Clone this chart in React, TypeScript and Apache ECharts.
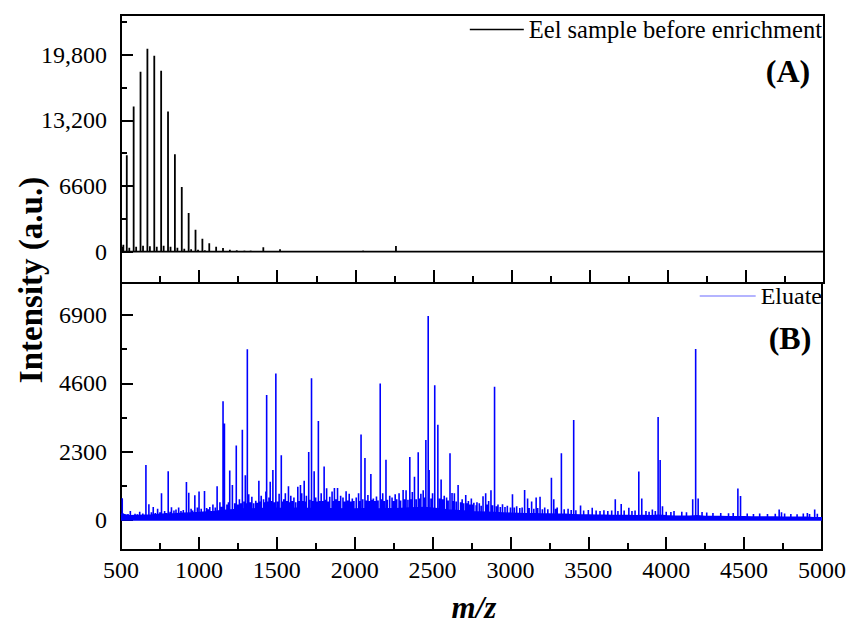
import React, { useEffect, useRef } from "react";
import * as echarts from "echarts";

const FONT = "Liberation Serif";
const X_MIN = 500;
const X_MAX = 5000;

// Panel A: eel sample before enrichment (main polymer-like series, m/z, intensity)
const peaksA_mz = [537, 581, 625, 669, 713, 757, 801, 845, 889, 933, 977, 1021, 1065, 1109, 1153, 1197, 1241];
const peaksA_int = [9700, 14600, 18100, 20400, 19700, 18200, 14100, 9800, 6500, 3900, 2200, 1300, 850, 500, 380, 200, 150];
// Panel A: small peaks
const minorA: number[][] = [
  [505, 500], [515, 700], [553, 400], [597, 500], [641, 600], [685, 550], [729, 500], [773, 600],
  [817, 500], [861, 400], [905, 300], [949, 250], [993, 200], [1037, 150], [1290, 120], [1330, 110],
  [1411, 440], [1518, 250], [1650, 90], [1800, 100], [2050, 110], [2260, 570], [2600, 90], [3000, 80],
  [3500, 80], [4000, 70], [4500, 60],
];

// Panel B: eluate peaks [m/z, intensity]
const peaksB: number[][] = [
  [508, 730], [660, 1850], [679, 530], [707, 440], [760, 900], [803, 1640], [824, 430], [853, 350],
  [920, 1280], [935, 920], [974, 830], [1001, 960], [1036, 980], [1070, 440], [1117, 1140], [1155, 4000],
  [1164, 3250], [1198, 1670], [1215, 1180], [1240, 2510], [1279, 3040], [1298, 1510], [1311, 5750],
  [1320, 870], [1385, 1320], [1430, 960], [1435, 4210], [1458, 1290], [1475, 1680], [1494, 4930],
  [1529, 2180], [1555, 900], [1575, 1140], [1635, 1120], [1652, 1180], [1676, 1320], [1705, 2290],
  [1723, 4770], [1740, 1640], [1767, 3330], [1804, 1800], [1820, 1070], [1870, 1080], [1890, 1080],
  [1945, 970], [2041, 2880], [2066, 2090], [2104, 1550], [2140, 790], [2164, 4600], [2201, 2030],
  [2260, 870], [2311, 1010], [2354, 2120], [2384, 1460], [2408, 2280], [2457, 2690], [2472, 6870],
  [2478, 1680], [2514, 4540], [2534, 3210], [2555, 1360], [2612, 2250], [2625, 910], [2664, 1180],
  [2713, 840], [2749, 720], [2785, 600], [2824, 800], [2841, 900], [2875, 1000], [2898, 4490],
  [2949, 530], [3013, 870], [3091, 1010], [3110, 720], [3136, 620], [3165, 760], [3190, 780],
  [3263, 1420], [3278, 700], [3327, 2250], [3406, 3370], [3450, 490], [3525, 410], [3673, 700],
  [3711, 540], [3760, 410], [3824, 1630], [3843, 720], [3911, 350], [3948, 3470], [3961, 2020],
  [3976, 460], [4170, 700], [4189, 5760], [4205, 720], [4460, 1060], [4477, 810], [4725, 350],
  [4906, 240], [4953, 350],
];
// Panel B: small spikes forming the ragged top of the dense band
const spikesB: number[][] = [
  [515, 220], [530, 180], [545, 200], [560, 300], [575, 170], [590, 210], [605, 190], [620, 280],
  [640, 220], [695, 260], [720, 240], [735, 380], [750, 260], [780, 300], [790, 240], [815, 280],
  [840, 320], [870, 420], [885, 300], [900, 340], [950, 380], [960, 320], [990, 420], [1015, 380],
  [1050, 400], [1060, 360], [1090, 520], [1105, 420], [1135, 600], [1145, 450], [1180, 520],
  [1190, 600], [1230, 560], [1250, 520], [1260, 700], [1270, 560], [1290, 620], [1305, 560],
  [1330, 600], [1340, 780], [1352, 560], [1365, 650], [1375, 580], [1392, 620], [1400, 820],
  [1415, 700], [1422, 600], [1444, 620], [1450, 760], [1466, 640], [1484, 600], [1505, 620],
  [1515, 880], [1538, 620], [1545, 700], [1565, 640], [1582, 600], [1590, 820], [1600, 640],
  [1610, 760], [1622, 600], [1644, 640], [1660, 900], [1668, 640], [1684, 620], [1690, 820],
  [1712, 680], [1732, 640], [1750, 760], [1758, 620], [1775, 640], [1785, 900], [1795, 640],
  [1812, 680], [1830, 620], [1840, 780], [1855, 960], [1862, 640], [1880, 700], [1900, 640],
  [1910, 820], [1925, 760], [1935, 620], [1955, 660], [1965, 880], [1975, 620], [1985, 720],
  [1995, 640], [2010, 760], [2025, 900], [2033, 640], [2052, 700], [2075, 660], [2085, 840],
  [2095, 640], [2112, 680], [2120, 720], [2130, 640], [2150, 660], [2172, 700], [2180, 900],
  [2190, 640], [2210, 680], [2225, 820], [2240, 760], [2250, 640], [2270, 700], [2285, 900],
  [2295, 660], [2320, 700], [2330, 1000], [2342, 680], [2362, 700], [2370, 940], [2395, 700],
  [2418, 720], [2425, 880], [2440, 1000], [2450, 760], [2490, 720], [2500, 900], [2545, 720],
  [2565, 700], [2575, 820], [2590, 760], [2600, 660], [2632, 640], [2640, 900], [2652, 620],
  [2680, 600], [2690, 700], [2700, 560], [2722, 560], [2730, 640], [2740, 520], [2758, 520],
  [2765, 580], [2780, 500], [2800, 560], [2812, 480], [2850, 520], [2860, 640], [2885, 500],
  [2910, 460], [2920, 520], [2935, 440], [2965, 440], [2980, 480], [3000, 420], [3025, 420],
  [3040, 460], [3060, 400], [3075, 420], [3120, 400], [3150, 380], [3175, 400], [3205, 360],
  [3220, 420], [3240, 360], [3290, 380], [3300, 420], [3345, 360], [3370, 380], [3390, 340],
  [3420, 330], [3470, 320], [3500, 340], [3550, 320], [3575, 300], [3600, 330], [3625, 300],
  [3650, 320], [3690, 300], [3730, 320], [3780, 300], [3800, 320], [3870, 300], [3890, 280],
  [3930, 300], [4000, 280], [4030, 270], [4050, 300], [4100, 280], [4130, 260], [4230, 270],
  [4260, 250], [4300, 240], [4350, 240], [4400, 230], [4430, 240], [4520, 220], [4560, 200],
  [4600, 220], [4650, 200], [4700, 210], [4740, 260], [4760, 220], [4800, 200], [4840, 190],
  [4880, 220], [4920, 200], [4970, 210],
];
// Panel B: solid floor of the dense band [m/z, intensity]
const noiseB: number[][] = [
  [500, 200], [550, 140], [600, 150], [650, 160], [700, 170], [750, 190], [800, 200], [850, 210],
  [900, 230], [950, 240], [1000, 250], [1050, 270], [1100, 290], [1150, 320], [1200, 340], [1250, 350],
  [1300, 380], [1350, 370], [1400, 390], [1450, 380], [1500, 400], [1550, 380], [1600, 390],
  [1650, 400], [1700, 390], [1750, 380], [1800, 390], [1850, 380], [1900, 370], [1950, 380],
  [2000, 370], [2050, 380], [2100, 380], [2150, 370], [2200, 380], [2250, 380], [2300, 390],
  [2350, 400], [2400, 410], [2450, 420], [2500, 400], [2550, 370], [2600, 340], [2650, 320],
  [2700, 300], [2750, 280], [2800, 270], [2850, 260], [2900, 250], [2950, 240], [3000, 230],
  [3050, 220], [3100, 210], [3150, 210], [3200, 200], [3250, 200], [3300, 190], [3350, 190],
  [3400, 180], [3450, 170], [3500, 170], [3550, 160], [3600, 160], [3650, 150], [3700, 150],
  [3750, 150], [3800, 140], [3850, 150], [3900, 140], [3950, 160], [4000, 140], [4050, 130],
  [4100, 130], [4150, 130], [4200, 140], [4250, 120], [4300, 120], [4350, 120], [4400, 110],
  [4450, 110], [4500, 110], [4550, 100], [4600, 100], [4650, 100], [4700, 100], [4750, 90],
  [4800, 90], [4850, 90], [4900, 90], [4950, 80], [5000, 80],
];

const yLabelsA = [0, 6600, 13200, 19800];
const yMinorA = [3300, 9900, 16500, 23100];
const yLabelsB = [0, 2300, 4600, 6900];
const yMinorB = [1150, 3450, 5750];

function sticks(peaks: number[][]): number[][] {
  const sorted = [...peaks].sort((a, b) => a[0] - b[0]);
  const out: number[][] = [[X_MIN, 0]];
  for (const p of sorted) {
    out.push([p[0], 0], [p[0], p[1]], [p[0], 0]);
  }
  out.push([X_MAX, 0]);
  return out;
}

const fmtY = (v: number) => (Math.abs(v) >= 10000 ? v.toLocaleString("en-US") : String(v));
const fmtX = (v: number) => String(v);

function xAxisCfg(gridIndex: number, showLabel: boolean) {
  return {
    type: "value",
    gridIndex,
    min: X_MIN,
    max: X_MAX,
    interval: 500,
    axisLine: { show: true, onZero: false, lineStyle: { color: "#000", width: 2 } },
    axisTick: { show: true, inside: true, length: 13, lineStyle: { color: "#000", width: 2 } },
    minorTick: { show: true, splitNumber: 2, length: 7, lineStyle: { color: "#000", width: 2 } },
    splitLine: { show: false },
    minorSplitLine: { show: false },
    axisLabel: { show: showLabel, formatter: fmtX, fontSize: 24, fontFamily: FONT, color: "#000", margin: 8 },
  };
}

function yAxisMajor(gridIndex: number, min: number, max: number, labels: number[]) {
  return {
    type: "value",
    gridIndex,
    position: "left",
    min,
    max,
    axisLine: { show: true, onZero: false, lineStyle: { color: "#000", width: 2 } },
    axisTick: { show: true, inside: true, length: 12, customValues: labels, lineStyle: { color: "#000", width: 2 } },
    axisLabel: { show: true, customValues: labels, formatter: fmtY, fontSize: 24, fontFamily: FONT, color: "#000", margin: 14 },
    splitLine: { show: false },
  };
}

function yAxisMinor(gridIndex: number, min: number, max: number, ticks: number[]) {
  return {
    type: "value",
    gridIndex,
    position: "left",
    offset: 0,
    min,
    max,
    axisLine: { show: false, onZero: false },
    axisTick: { show: true, inside: true, length: 6, customValues: ticks, lineStyle: { color: "#000", width: 2 } },
    axisLabel: { show: false },
    splitLine: { show: false },
  };
}

export default function App() {
  const ref = useRef<HTMLDivElement>(null);
  useEffect(() => {
    if (!ref.current) return;
    const chart = echarts.init(ref.current, undefined, { renderer: "svg" });
    const dataA = sticks([
      ...peaksA_mz.map((m, i) => [m, peaksA_int[i]]),
      ...minorA,
    ]);
    const dataB = sticks([...peaksB, ...spikesB]);
    chart.setOption({
      animation: false,
      backgroundColor: "#fff",
      textStyle: { fontFamily: FONT },
      grid: [
        { left: 121, right: 25, top: 15, height: 268, show: true, borderColor: "#000", borderWidth: 2 },
        { left: 121, right: 25, top: 283, height: 267, show: true, borderColor: "#000", borderWidth: 2 },
      ],
      xAxis: [xAxisCfg(0, false), xAxisCfg(1, true)],
      yAxis: [
        yAxisMajor(0, -3150, 23800, yLabelsA),
        yAxisMinor(0, -3150, 23800, yMinorA),
        yAxisMajor(1, -1010, 7980, yLabelsB),
        yAxisMinor(1, -1010, 7980, yMinorB),
      ],
      legend: [
        {
          data: ["Eel sample before enrichment"],
          right: 27,
          top: 17,
          padding: 0,
          icon: "rect",
          itemWidth: 54,
          itemHeight: 1.5,
          selectedMode: false,
          textStyle: { fontSize: 24.5, fontFamily: FONT, color: "#000" },
        },
        {
          data: ["Eluate"],
          right: 27,
          top: 284,
          padding: 0,
          icon: "rect",
          itemWidth: 56,
          itemHeight: 1,
          selectedMode: false,
          itemStyle: { color: "#6b6bff" },
          textStyle: { fontSize: 24, fontFamily: FONT, color: "#000" },
        },
      ],
      graphic: [
        {
          type: "text",
          x: 31,
          y: 280,
          rotation: Math.PI / 2,
          style: {
            text: "Intensity (a.u.)",
            fontSize: 33,
            fontWeight: "bold",
            fontFamily: FONT,
            fill: "#000",
            align: "center",
            verticalAlign: "middle",
          },
        },
        {
          type: "text",
          x: 474,
          y: 607,
          style: {
            text: "m/z",
            fontSize: 31,
            fontWeight: "bold",
            fontStyle: "italic",
            fontFamily: FONT,
            fill: "#000",
            align: "center",
            verticalAlign: "middle",
          },
        },
        {
          type: "text",
          x: 788,
          y: 71,
          style: { text: "(A)", fontSize: 32, fontWeight: "bold", fontFamily: FONT, fill: "#000", align: "center", verticalAlign: "middle" },
        },
        {
          type: "text",
          x: 790,
          y: 338,
          style: { text: "(B)", fontSize: 32, fontWeight: "bold", fontFamily: FONT, fill: "#000", align: "center", verticalAlign: "middle" },
        },
      ],
      series: [
        {
          name: "Eel sample before enrichment",
          type: "line",
          xAxisIndex: 0,
          yAxisIndex: 0,
          data: dataA,
          symbol: "none",
          lineStyle: { color: "#000", width: 1.8 },
          itemStyle: { color: "#000" },
        },
        {
          name: "Eluate noise",
          type: "line",
          xAxisIndex: 1,
          yAxisIndex: 2,
          data: noiseB,
          symbol: "none",
          lineStyle: { color: "#0000ff", width: 1.5 },
          areaStyle: { color: "#0000ff", opacity: 1 },
          itemStyle: { color: "#0000ff" },
        },
        {
          name: "Eluate",
          type: "line",
          xAxisIndex: 1,
          yAxisIndex: 2,
          data: dataB,
          symbol: "none",
          lineStyle: { color: "#0000ff", width: 1.6 },
          itemStyle: { color: "#0000ff" },
        },
      ],
    });
    return () => chart.dispose();
  }, []);
  return (
    <div
      ref={ref}
      style={{ position: "fixed", left: 0, top: 0, width: 849, height: 623, background: "#fff" }}
    />
  );
}
